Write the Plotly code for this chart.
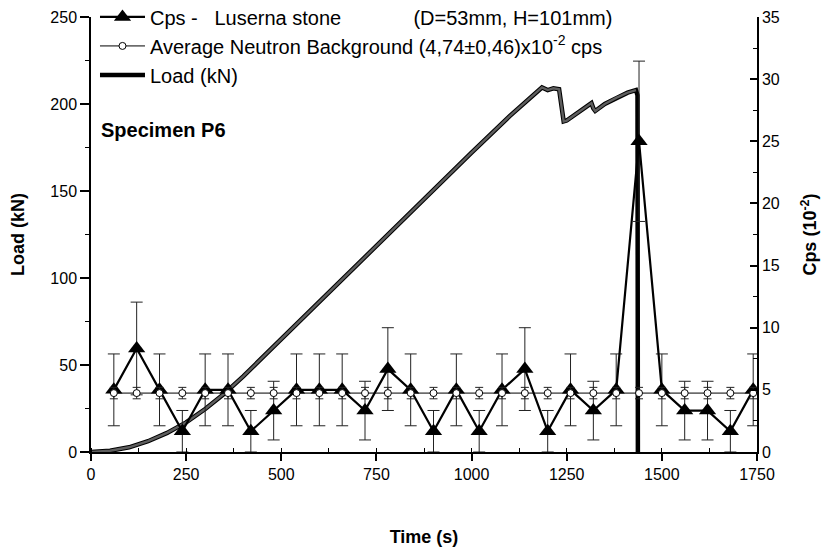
import plotly.graph_objects as go

# ---- data ----
time_cps = [60, 120, 180, 240, 300, 360, 420, 480, 540, 600, 660, 720, 780, 840, 900,
            960, 1020, 1080, 1140, 1200, 1260, 1320, 1380, 1440, 1500, 1560, 1620, 1680, 1740]
cps = [5, 8.33, 5, 1.67, 5, 5, 1.67, 3.33, 5, 5, 5, 3.33, 6.67, 5, 1.67,
       5, 1.67, 5, 6.67, 1.67, 5, 3.33, 5, 25, 5, 3.33, 3.33, 1.67, 5]
cps_err = [2.89, 3.73, 2.89, 1.67, 2.89, 2.89, 1.67, 2.36, 2.89, 2.89, 2.89, 2.36, 3.33, 2.89, 1.67,
           2.89, 1.67, 2.89, 3.33, 1.67, 2.89, 2.36, 2.89, 6.45, 2.89, 2.36, 2.36, 1.67, 2.89]

bg_cps = [4.74, 4.74, 4.74, 4.74, 4.74, 4.74, 4.74, 4.74, 4.74, 4.74, 4.74, 4.74, 4.74, 4.74, 4.74,
          4.74, 4.74, 4.74, 4.74, 4.74, 4.74, 4.74, 4.74, 4.74, 4.74, 4.74, 4.74, 4.74, 4.74]
bg_err = [0.46, 0.46, 0.46, 0.46, 0.46, 0.46, 0.46, 0.46, 0.46, 0.46, 0.46, 0.46, 0.46, 0.46, 0.46,
          0.46, 0.46, 0.46, 0.46, 0.46, 0.46, 0.46, 0.46, 0.46, 0.46, 0.46, 0.46, 0.46, 0.46]

load_time = [0, 50, 100, 150, 200, 250, 300, 350, 400, 500, 600, 700, 800, 900, 1000,
             1100, 1150, 1185, 1200, 1215, 1230, 1236, 1242, 1250, 1260, 1280, 1300, 1315,
             1320, 1325, 1350, 1380, 1410, 1432, 1436, 1437]
load_kN = [0, 0.7, 2.7, 6.2, 11, 17, 24.7, 33.5, 43.5, 65, 86.5, 108, 129, 150.5, 172,
           193, 203, 209.5, 208, 209, 208.5, 200, 190, 190.5, 192, 195, 198, 200.5,
           197.5, 196, 200, 203.5, 206.5, 208, 205, 0]

x_ticks = [0, 250, 500, 750, 1000, 1250, 1500, 1750]

FONT = "Arial, Liberation Sans, sans-serif"
NB = "\u00a0"

fig = go.Figure()

fig.add_trace(go.Scatter(
    x=time_cps, y=cps, yaxis="y2", mode="lines+markers",
    name="Cps -" + NB * 3 + "Luserna stone" + NB * 13 + "(D=53mm, H=101mm)",
    line=dict(color="black", width=2.2),
    marker=dict(symbol="triangle-up", size=15, color="black",
                line=dict(color="black", width=0)),
    error_y=dict(type="data", array=cps_err, color="#222", thickness=1, width=6),
    legendgroup="a",
))

fig.add_trace(go.Scatter(
    x=time_cps, y=bg_cps, yaxis="y2", mode="lines+markers",
    name="Average Neutron Background (4,74±0,46)x10<sup>-2</sup> cps",
    line=dict(color="black", width=1),
    marker=dict(symbol="circle", size=7, color="white",
                line=dict(color="black", width=1)),
    error_y=dict(type="data", array=bg_err, color="#222", thickness=1, width=4),
    legendgroup="b",
))

fig.add_trace(go.Scatter(
    x=load_time, y=load_kN, yaxis="y", mode="lines",
    name="Load (kN)",
    line=dict(color="black", width=4.5),
    legendgroup="c",
))
fig.add_trace(go.Scatter(
    x=load_time[:-2], y=load_kN[:-2], yaxis="y", mode="lines",
    showlegend=False, hoverinfo="skip",
    line=dict(color="#5e5e5e", width=2.4),
))

axis_common = dict(
    showgrid=False, zeroline=False, showline=True, linecolor="black", linewidth=1.5,
    tickfont=dict(family=FONT, size=16, color="black"),
    tickcolor="black", automargin=False,
)

# the page body adds an 8px offset, so the figure is 8px smaller and margins shifted
fig.update_layout(
    width=825, height=548,
    margin=dict(l=83, r=76, t=9, b=104, autoexpand=False),
    plot_bgcolor="white", paper_bgcolor="white",
    font=dict(family=FONT, color="black"),
    xaxis=dict(
        range=[0, 1750], tickvals=x_ticks, ticks="outside", ticklen=7, tickwidth=1.5,
        minor=dict(dtick=125, ticks="inside", ticklen=4, tickwidth=1, tickcolor="black"),
        title=dict(text="<b>Time (s)</b>", font=dict(family=FONT, size=18), standoff=48),
        **axis_common,
    ),
    yaxis=dict(
        range=[0, 250], dtick=50, ticks="outside", ticklen=9, tickwidth=1.5,
        minor=dict(dtick=25, ticks="outside", ticklen=4, tickwidth=1, tickcolor="black"),
        title=dict(text="<b>Load (kN)</b>", font=dict(family=FONT, size=18), standoff=24),
        **axis_common,
    ),
    yaxis2=dict(
        range=[0, 35], dtick=5, overlaying="y", side="right",
        ticks="inside", ticklen=7, tickwidth=1.5,
        minor=dict(dtick=2.5, ticks="inside", ticklen=4, tickwidth=1, tickcolor="black"),
        title=dict(text="<b>Cps (10<sup>-2</sup>)</b>", font=dict(family=FONT, size=18), standoff=25),
        **axis_common,
    ),
    legend=dict(
        x=0.006, y=1.045, xanchor="left", yanchor="top",
        bgcolor="rgba(0,0,0,0)", font=dict(family=FONT, size=20, color="black"),
        tracegroupgap=0, traceorder="grouped", itemwidth=45,
    ),
    showlegend=True,
    annotations=[dict(
        xref="paper", yref="paper", x=0.012, y=0.74, xanchor="left", yanchor="middle",
        text="<b>Specimen P6</b>", showarrow=False,
        font=dict(family=FONT, size=20, color="black"),
    )],
)

fig.write_html("out.html")
